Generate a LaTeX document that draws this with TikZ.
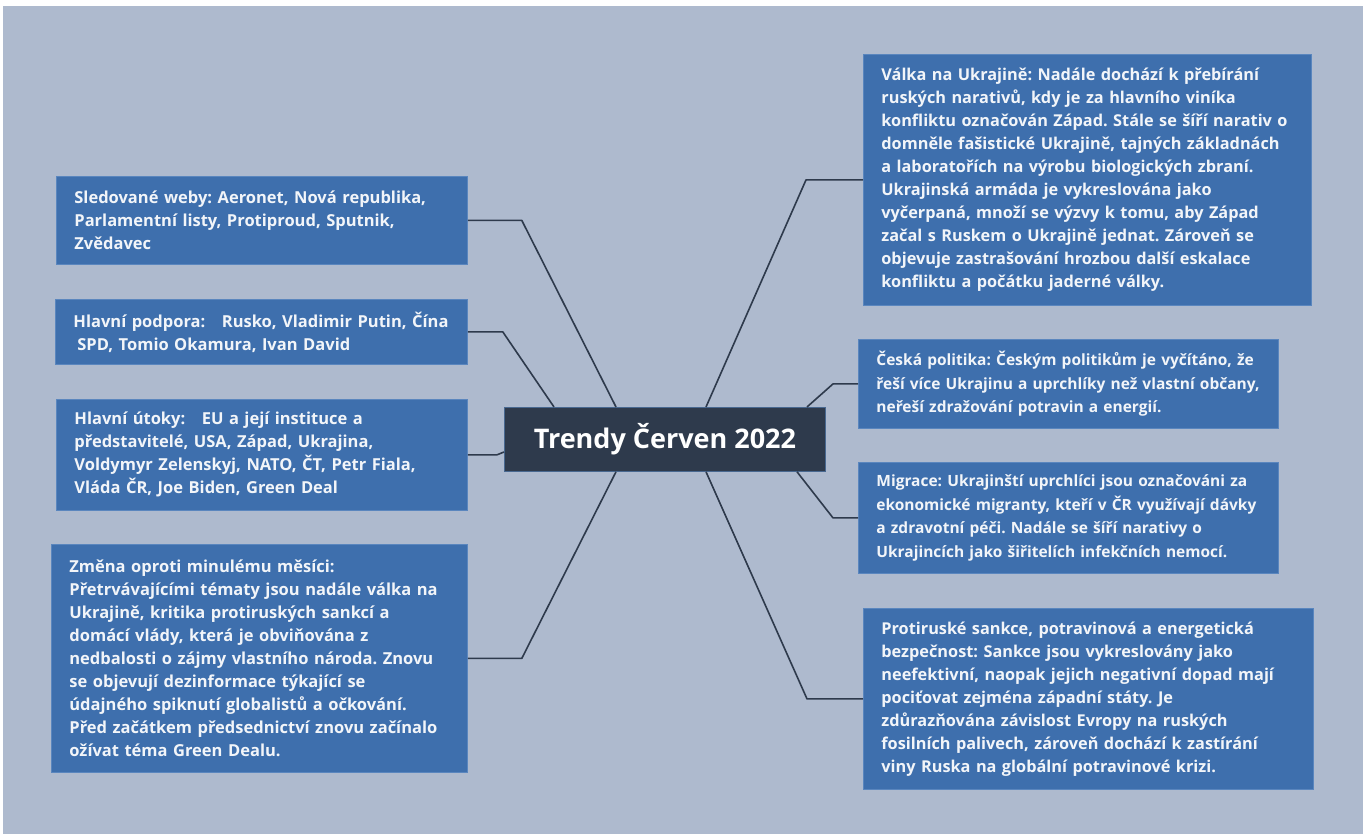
\documentclass[tikz,border=0pt]{standalone}
\usepackage{fontspec}
\setmainfont{Open Sans}
\usetikzlibrary{calc}
\definecolor{bgc}{HTML}{AEBACE}
\definecolor{boxblue}{HTML}{3E6FAD}
\definecolor{boxedge}{HTML}{5A86BE}
\definecolor{darkc}{HTML}{2E3A4C}
\definecolor{txt}{HTML}{F2F5F9}
\newcommand\nowrapline[1]{\mbox{#1}}
\tikzset{
  infobox/.style={draw=boxedge, line width=0.8pt, fill=boxblue, text=txt, align=left,
    anchor=north west, inner xsep=18pt, inner ysep=0pt,
    font=\fontsize{16.5}{23}\selectfont\bfseries},
  smallfont/.style={font=\fontsize{15.5}{23.5}\selectfont\bfseries},
  midfont/.style={font=\fontsize{16.3}{23}\selectfont\bfseries},
  titlebox/.style={draw=boxedge!60!darkc, line width=0.8pt, fill=darkc, text=white,
    anchor=north west, minimum width=321pt, minimum height=64pt, inner sep=0pt,
    font=\fontsize{27}{30}\selectfont\bfseries},
  link/.style={draw=darkc, line width=1.6pt, line join=round}
}
\begin{document}
\frenchspacing
\begin{tikzpicture}[x=1pt,y=-1pt]
\useasboundingbox (0,0) rectangle (1363,834);
\fill[white] (0,0) rectangle (1363,834);
\fill[bgc] (3,6) rectangle (1363,834);

\node[titlebox] (c) at (504,407) {Trendy Červen 2022};

\node[infobox, text width=375pt, minimum height=88pt] (b1) at (56,176)
 {Sledované weby: Aeronet, Nová republika,\\Parlamentní listy, Protiproud, Sputnik,\\Zvědavec};
\node[infobox, text width=376pt, minimum height=65pt] (b2) at (55,299)
 {Hlavní podpora:\ \ \ Rusko, Vladimir Putin, Čína\\\hspace*{4pt}SPD, Tomio Okamura, Ivan David};
\node[infobox, text width=375pt, minimum height=111pt] (b3) at (56,399)
 {Hlavní útoky:\ \ \ EU a její instituce a\\představitelé, USA, Západ, Ukrajina,\\Voldymyr Zelenskyj, NATO, ČT, Petr Fiala,\\Vláda ČR, Joe Biden, Green Deal};
\node[infobox, text width=380pt, minimum height=228pt] (b4) at (51,544)
 {Změna oproti minulému měsíci:\\Přetrvávajícími tématy jsou nadále válka na\\Ukrajině, kritika protiruských sankcí a\\domácí vlády, která je obviňována z\\nedbalosti o zájmy vlastního národa. Znovu\\se objevují dezinformace týkající se\\údajného spiknutí globalistů a očkování.\\Před začátkem předsednictví znovu začínalo\\ožívat téma Green Dealu.};

\node[infobox, midfont, text width=412pt, minimum height=251pt] (b5) at (863,54)
 {Válka na Ukrajině: Nadále dochází k přebírání\\ruských narativů, kdy je za hlavního viníka\\konfliktu označován Západ. Stále se šíří narativ o\\domněle fašistické Ukrajině, tajných základnách\\a laboratořích na výrobu biologických zbraní.\\Ukrajinská armáda je vykreslována jako\\vyčerpaná, množí se výzvy k tomu, aby Západ\\začal s Ruskem o Ukrajině jednat. Zároveň se\\objevuje zastrašování hrozbou další eskalace\\konfliktu a počátku jaderné války.};
\node[infobox, smallfont, text width=384pt, minimum height=89pt] (b6) at (858,339)
 {\nowrapline{Česká politika: Českým politikům je vyčítáno, že}\\\nowrapline{řeší více Ukrajinu a uprchlíky než vlastní občany,}\\\nowrapline{neřeší zdražování potravin a energií.}};
\node[infobox, smallfont, text width=384pt, minimum height=111pt] (b7) at (858,462)
 {\nowrapline{Migrace: Ukrajinští uprchlíci jsou označováni za}\\\nowrapline{ekonomické migranty, kteří v ČR využívají dávky}\\\nowrapline{a zdravotní péči. Nadále se šíří narativy o}\\\nowrapline{Ukrajincích jako šiřitelích infekčních nemocí.}};
\node[infobox, midfont, text width=414pt, minimum height=181pt] (b8) at (863,608)
 {Protiruské sankce, potravinová a energetická\\bezpečnost: Sankce jsou vykreslovány jako\\neefektivní, naopak jejich negativní dopad mají\\pociťovat zejména západní státy. Je\\zdůrazňována závislost Evropy na ruských\\fosilních palivech, zároveň dochází k zastírání\\viny Ruska na globální potravinové krizi.};

\path[link] (b1.east) -- ++(54,0) -- ([xshift=112pt]c.north west);
\path[link] (b2.east) -- ++(35,0) -- ([xshift=50pt]c.north west);
\path[link] (b3.east) -- ++(29,0) -- ([yshift=-45pt]c.north west);
\path[link] (b4.east) -- ++(54,0) -- ([xshift=112pt]c.south west);
\path[link] (b5.west) -- ++(-57,0) -- ([xshift=202pt]c.north west);
\path[link] (b6.west) -- ++(-25,0) -- ([xshift=303pt]c.north west);
\path[link] (b7.west) -- ++(-25,0) -- ([xshift=293pt]c.south west);
\path[link] (b8.west) -- ++(-56,0) -- ([xshift=202pt]c.south west);
\end{tikzpicture}
\end{document}
